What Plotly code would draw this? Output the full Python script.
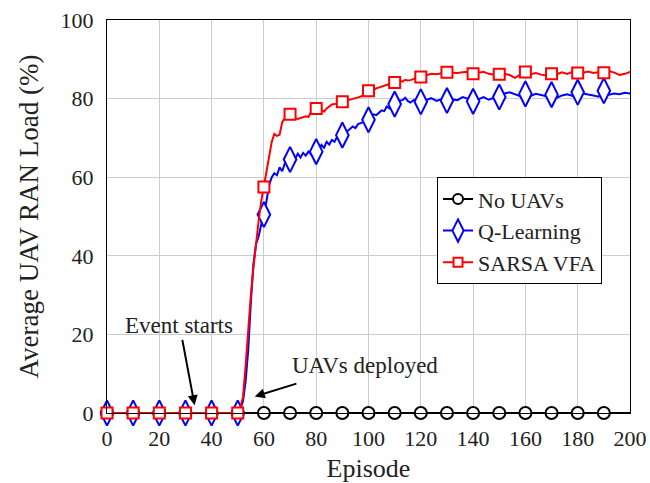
import plotly.graph_objects as go

episodes = [0, 10, 20, 30, 40] + list(range(50, 121)) + list(range(122, 201, 2))

load_q = [
    0, 0, 0, 0, 0,
    0, 1, 3, 8, 16, 28, 38, 43, 45, 48,
    50.5, 54, 58, 60, 61, 60.5, 62.5, 61.5, 63.5, 64,
    64.5, 65.2, 64.8, 66, 65, 66.2, 65.5, 66.5, 65.8, 66.3,
    66.5, 67, 68.2, 67.5, 69, 68.3, 69.5, 69, 70.3, 70,
    70.7, 71.2, 71.6, 72.3, 72.9, 72.5, 73.5, 73.7, 74, 74.3,
    74.6, 75.2, 76, 75.8, 76.3, 77, 76.8, 78, 77.5, 78.2,
    78.6, 79, 79.5, 79.6, 80.2, 79.4, 79, 79.5, 79.8, 79.2,
    79.2,
    79.6, 80.1, 79.4, 79.9, 79.5, 79.8, 79.6, 80.4, 80.0, 79.3,
    79.8, 80.4, 79.7, 80.2, 80.4, 81.3, 81.6, 81.0, 80.6, 81.2,
    80.7, 81.2, 80.9, 80.6, 81.0, 80.2, 80.8, 81.1, 80.7, 81.6,
    81.3, 81.1, 80.8, 80.5, 82.0, 81.0, 81.3, 81.1, 81.5, 81.3,
]

load_sarsa = [
    0, 0, 0, 0, 0,
    0, 1.5, 4, 12, 22, 30, 37, 44, 49, 54,
    57.5, 62, 65, 69, 71, 70.5, 70.8, 74, 75, 75.6,
    76, 75.5, 75, 74.8, 75, 75.2, 75.5, 75.3, 76.5, 77,
    77.5, 77.6, 77.2, 76.7, 77.5, 78, 78.5, 78.6, 78.8, 79,
    79.2, 79.3, 79.5, 79.7, 80, 80.2, 80.2, 80.5, 80.9, 81.5,
    82, 82.1, 82.2, 82.6, 82.8, 83.1, 83.3, 83.5, 83.7, 84,
    84.1, 84.3, 84.6, 84.3, 84.8, 84.6, 84.7, 85, 85.2, 85.4,
    85.5,
    86.0, 86.3, 86.2, 86.5, 86.7, 86.6, 86.5, 86.7, 86.8, 86.3,
    86.6, 86.8, 86.3, 86.1, 86.2, 86.3, 86.0, 85.3, 86.1, 86.8,
    86.2, 86.5, 86.1, 85.9, 86.3, 86.2, 86.7, 86.3, 86.8, 86.5,
    86.6, 86.9, 86.5, 86.7, 86.6, 87.0, 86.6, 86.0, 86.3, 86.8,
]

episodes_none = [0, 10, 20, 30, 40, 50, 60, 70, 80, 90, 100,
                 110, 120, 130, 140, 150, 160, 170, 180, 190, 200]
load_none = [0, 0, 0, 0, 0, 0, 0, 0, 0, 0, 0,
             0, 0, 0, 0, 0, 0, 0, 0, 0, 0]

FONT = "Liberation Serif"
INK = "#222222"


def marks(xs, ys):
    # pgfplots style: a mark every 10 episodes, none on the last point
    pts = [(x, y) for x, y in zip(xs, ys) if x % 10 == 0 and x < 200]
    return [p[0] for p in pts], [p[1] for p in pts]


series = [
    ("No UAVs", episodes_none, load_none, "black", "circle", 12),
    ("Q-Learning", episodes, load_q, "blue", "diamond-tall", 18),
    ("SARSA VFA", episodes, load_sarsa, "red", "square", 11),
]

fig = go.Figure()
for name, xs, ys, color, symbol, size in series:
    fig.add_trace(go.Scatter(x=xs, y=ys, mode="lines", showlegend=False,
                             line=dict(color=color, width=2)))
    mx, my = marks(xs, ys)
    fig.add_trace(go.Scatter(x=mx, y=my, mode="markers", showlegend=False,
                             cliponaxis=False,
                             marker=dict(symbol=symbol, size=size, color="white",
                                         line=dict(color=color, width=2))))
    # legend-only entry
    fig.add_trace(go.Scatter(x=[None], y=[None], mode="lines+markers", name=name,
                             line=dict(color=color, width=2),
                             marker=dict(symbol=symbol, size=size - 2, color="white",
                                         line=dict(color=color, width=2))))

fig.add_annotation(x=33.5, y=2, ax=28.7, ay=19, xref="x", yref="y",
                   axref="x", ayref="y", text="", showarrow=True,
                   arrowhead=2, arrowsize=1, arrowwidth=2, arrowcolor="black")
fig.add_annotation(x=27.5, y=22.3, text="Event starts", showarrow=False,
                   font=dict(family=FONT, size=23, color=INK))
fig.add_annotation(x=56.5, y=4.2, ax=73, ay=7.6, xref="x", yref="y",
                   axref="x", ayref="y", text="", showarrow=True,
                   arrowhead=2, arrowsize=1, arrowwidth=2, arrowcolor="black")
fig.add_annotation(x=98.5, y=12.2, text="UAVs deployed", showarrow=False,
                   font=dict(family=FONT, size=23, color=INK))

fig.update_layout(
    width=650, height=483,
    margin=dict(l=107, r=20, t=20, b=70),
    paper_bgcolor="white", plot_bgcolor="white",
    font=dict(family=FONT, size=22, color=INK),
    legend=dict(x=0.631, y=0.6, xanchor="left", yanchor="top",
                bgcolor="white", bordercolor="black", borderwidth=1,
                font=dict(family=FONT, size=22), itemwidth=30,
                tracegroupgap=0),
)
fig.update_xaxes(range=[0, 200], tickvals=list(range(0, 201, 20)),
                 showgrid=True, gridcolor="#cccccc", gridwidth=1,
                 showline=True, linecolor="black", linewidth=1, mirror=True,
                 ticks="", zeroline=False, automargin=False,
                 ticklabelstandoff=6,
                 title=dict(text="Episode", font=dict(size=26), standoff=10))
fig.update_yaxes(range=[0, 100], tickvals=list(range(0, 101, 20)),
                 showgrid=True, gridcolor="#cccccc", gridwidth=1,
                 showline=True, linecolor="black", linewidth=1, mirror=True,
                 ticks="", zeroline=False, automargin=False,
                 ticklabelstandoff=8,
                 title=dict(text="Average UAV RAN Load (%)", font=dict(size=27),
                            standoff=14))

# drop the page's default body margin so the figure sits at the window origin
fig.write_html("out.html", config={"displayModeBar": False},
               post_script="document.body.style.margin='0';")
